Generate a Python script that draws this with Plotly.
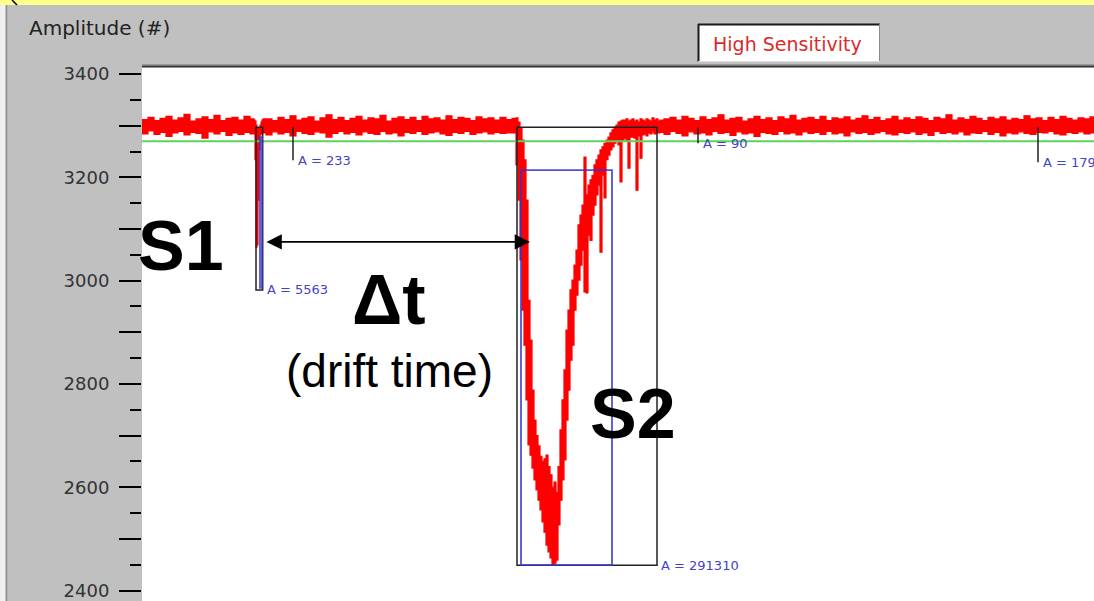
import plotly.graph_objects as go

# ---------------- data (time in samples, amplitude in ADC counts) ----------------
# trace envelope (max / min per time bin)
pre_t = list(range(0, 109, 6))
pre_hi = [3312, 3316, 3310, 3314, 3318, 3311, 3315, 3322, 3309, 3313,
          3317, 3312, 3320, 3310, 3314, 3316, 3311, 3318, 3313]
pre_lo = [3288, 3284, 3290, 3283, 3287, 3279, 3286, 3289, 3282, 3287,
          3285, 3276, 3288, 3284, 3289, 3281, 3286, 3283, 3287]

s1_t = list(range(112, 122))
s1_hi = [3311, 3309, 3301, 3296, 3292, 3296, 3301, 3307, 3311, 3313]
s1_lo = [3284, 3286, 3234, 3065, 3069, 3156, 3253, 3282, 3284, 3286]

drift_t = list(range(124, 371, 6))
drift_hi = [3313, 3310, 3316, 3312, 3319, 3311, 3314, 3317, 3309, 3315,
            3321, 3312, 3316, 3310, 3314, 3318, 3311, 3315, 3313, 3320,
            3309, 3314, 3317, 3312, 3316, 3310, 3318, 3313, 3315, 3311,
            3319, 3312, 3316, 3314, 3310, 3317, 3313, 3315, 3311, 3316,
            3312, 3314]
drift_lo = [3286, 3282, 3288, 3284, 3287, 3280, 3289, 3285, 3283, 3288,
            3286, 3278, 3285, 3289, 3284, 3287, 3282, 3288, 3285, 3283,
            3289, 3284, 3286, 3280, 3287, 3285, 3289, 3283, 3286, 3288,
            3284, 3281, 3287, 3285, 3289, 3283, 3286, 3288, 3284, 3287,
            3285, 3286]

s2_t = list(range(374, 519, 2))
s2_hi = [3315, 3307, 3295, 3272, 3234, 3156, 2962, 2885, 2788, 2730,
         2700, 2680, 2660, 2650, 2655, 2662, 2640, 2624, 2600, 2610,
         2590, 2640, 2711, 2769, 2827, 2904, 2943, 2982, 3001, 3030,
         3059, 3108, 3127, 3146, 3239, 3166, 3185, 3195, 3204, 3224,
         3234, 3243, 3253, 3259, 3266, 3272, 3278, 3286, 3292, 3297,
         3301, 3307, 3309, 3311, 3311, 3313, 3309, 3311, 3313, 3309,
         3311, 3307, 3313, 3311, 3309, 3313, 3311, 3309, 3315, 3311,
         3313, 3309, 3311]
s2_lo = [3286, 3224, 3156, 3040, 2943, 2875, 2769, 2682, 2662, 2637,
         2614, 2595, 2575, 2556, 2533, 2513, 2488, 2475, 2463, 2449,
         2453, 2459, 2527, 2575, 2614, 2653, 2730, 2788, 2846, 2875,
         2943, 2972, 3001, 3030, 3059, 2978, 2976, 3088, 3078, 3127,
         3146, 3166, 3185, 3055, 3204, 3160, 3234, 3243, 3253, 3259,
         3266, 3272, 3263, 3191, 3272, 3276, 3272, 3218, 3278, 3278,
         3276, 3175, 3280, 3237, 3282, 3284, 3280, 3286, 3284, 3288,
         3284, 3286, 3286]

post_t = list(range(522, 955, 6))
post_hi = [3313, 3316, 3311, 3318, 3314, 3310, 3317, 3312, 3315, 3321,
           3311, 3314, 3316, 3309, 3313, 3318, 3312, 3315, 3310, 3317,
           3313, 3320, 3311, 3314, 3316, 3312, 3318, 3310, 3315, 3313,
           3317, 3311, 3314, 3319, 3312, 3316, 3310, 3313, 3318, 3311,
           3315, 3312, 3317, 3314, 3310, 3316, 3313, 3321, 3311, 3315,
           3312, 3318, 3314, 3310, 3316, 3313, 3317, 3311, 3314, 3312,
           3319, 3313, 3315, 3310, 3316, 3312, 3318, 3314, 3311, 3315,
           3313, 3317, 3312]
post_lo = [3287, 3283, 3289, 3285, 3280, 3288, 3284, 3286, 3282, 3289,
           3285, 3287, 3281, 3288, 3284, 3286, 3279, 3287, 3285, 3283,
           3289, 3284, 3286, 3282, 3288, 3285, 3287, 3283, 3289, 3284,
           3286, 3280, 3288, 3285, 3287, 3283, 3286, 3289, 3284, 3282,
           3287, 3285, 3288, 3283, 3286, 3281, 3289, 3285, 3287, 3284,
           3288, 3282, 3286, 3285, 3289, 3283, 3287, 3280, 3286, 3284,
           3288, 3285, 3283, 3287, 3286, 3289, 3284, 3282, 3287, 3285,
           3288, 3284, 3286]

threshold = 3270

# integration windows (S1, S2)
win_t0 = [114, 375]
win_t1 = [120.7, 515]
win_top = [3297, 3297]
win_bottom = [2982, 2449]
win_area = [5563, 291310]
peak_t0 = [118, 379]
peak_t1 = [120, 470]
peak_top = [3278, 3214]
peak_bottom = [2986, 2449]

# small pulses above threshold
mark_t = [151, 556, 896]
mark_bottom = [3233, 3266, 3229]
mark_area = [233, 90, 179]

y_ticks = list(range(2400, 3401, 100))
y_labels = [str(v) if v % 200 == 0 else "" for v in y_ticks]
y_minor = list(range(2450, 3400, 100))

for a, b, c in [(pre_t, pre_hi, pre_lo), (s1_t, s1_hi, s1_lo), (drift_t, drift_hi, drift_lo),
                (s2_t, s2_hi, s2_lo), (post_t, post_hi, post_lo)]:
    assert len(a) == len(b) == len(c), (len(a), len(b), len(c))

# ---------------- geometry helpers ----------------
W, H = 1094, 601
L, T = 142, 67
PW, PH = W - L, H - T


def px(xp):
    return (xp - L) / PW


def py(yp):
    return (H - yp) / PH


band_t = pre_t + s1_t + drift_t + s2_t + post_t
band_hi = pre_hi + s1_hi + drift_hi + s2_hi + post_hi
band_lo = pre_lo + s1_lo + drift_lo + s2_lo + post_lo

fig = go.Figure()
fig.add_trace(go.Scatter(
    x=band_t + band_t[::-1], y=band_hi + band_lo[::-1],
    mode="lines", fill="toself", fillcolor="#ff0000", line_shape="hv",
    line=dict(color="#ff0000", width=1.2), hoverinfo="skip", showlegend=False))

shapes = []
annotations = []

# threshold line
shapes.append(dict(type="line", xref="paper", yref="y", x0=0, x1=1, y0=threshold, y1=threshold,
                   line=dict(color="#5cd25c", width=2)))

black = "#222222"
blue = "rgba(50,50,205,0.85)"
label_color = "#4343c6"
small_font = dict(family="DejaVu Sans", size=13, color=label_color)

for t0, t1, top, bot, area in zip(win_t0, win_t1, win_top, win_bottom, win_area):
    shapes.append(dict(type="rect", xref="x", yref="y", x0=t0, x1=t1, y0=bot, y1=top,
                       line=dict(color=black, width=1.5)))
    annotations.append(dict(x=t1, y=bot, xref="x", yref="y", text=f"A = {area}", showarrow=False,
                            xanchor="left", yanchor="middle", xshift=2, font=small_font))
for t0, t1, top, bot in zip(peak_t0, peak_t1, peak_top, peak_bottom):
    shapes.append(dict(type="rect", xref="x", yref="y", x0=t0, x1=t1, y0=bot, y1=top,
                       line=dict(color=blue, width=1.8)))
for t, bot, area in zip(mark_t, mark_bottom, mark_area):
    shapes.append(dict(type="line", xref="x", yref="y", x0=t, x1=t, y0=win_top[0], y1=bot,
                       line=dict(color=black, width=1.5)))
    annotations.append(dict(x=t, y=bot, xref="x", yref="y", text=f"A = {area}", showarrow=False,
                            xanchor="left", yanchor="middle", xshift=3, font=small_font))

# drift-time arrow between S1 and S2
annotations.append(dict(x=388, y=3075, ax=123, ay=3075, xref="x", yref="y", axref="x", ayref="y",
                        text="", showarrow=True, arrowhead=2, startarrowhead=2, arrowside="end+start",
                        arrowsize=1.7, arrowwidth=1.8, arrowcolor="black"))

big = dict(family="Liberation Sans, Arial", size=70, color="black", weight=700)
annotations += [
    dict(x=px(181), y=py(246), xref="paper", yref="paper", text="S1", showarrow=False,
         xanchor="center", yanchor="middle", font=big),
    dict(x=px(389), y=py(300), xref="paper", yref="paper", text="Δt", showarrow=False,
         xanchor="center", yanchor="middle", font=big),
    dict(x=px(389), y=py(371), xref="paper", yref="paper", text="(drift time)", showarrow=False,
         xanchor="center", yanchor="middle",
         font=dict(family="Liberation Sans, Arial", size=46, color="black")),
    dict(x=px(633), y=py(414), xref="paper", yref="paper", text="S2", showarrow=False,
         xanchor="center", yanchor="middle", font=big),
    dict(x=px(27), y=py(28), xref="paper", yref="paper", text="Amplitude (#)", showarrow=False,
         xanchor="left", yanchor="middle", font=dict(family="DejaVu Sans", size=20, color="#222222")),
    dict(x=px(711), y=py(44), xref="paper", yref="paper", text="High Sensitivity", showarrow=False,
         xanchor="left", yanchor="middle", font=dict(family="DejaVu Sans", size=19, color="#dd2a2a")),
]

# window chrome
shapes += [
    dict(type="rect", xref="paper", yref="paper", x0=px(0), x1=px(W), y0=py(5), y1=py(0) + 0.01,
         fillcolor="#ffff8c", line=dict(width=0), layer="below"),
    dict(type="line", xref="paper", yref="paper", x0=px(12), x1=px(17), y0=py(0), y1=py(5),
         line=dict(color="black", width=1.5)),
    dict(type="rect", xref="paper", yref="paper", x0=px(0), x1=px(5.5), y0=py(H), y1=py(5),
         fillcolor="#efefef", line=dict(width=0), layer="below"),
    dict(type="line", xref="paper", yref="paper", x0=px(6.5), x1=px(6.5), y0=py(H), y1=py(5),
         line=dict(color="#8c8c8c", width=1.5)),
    dict(type="line", xref="paper", yref="paper", x0=0, x1=1, y0=py(64.5), y1=py(64.5),
         line=dict(color="#9a9a9a", width=1)),
    dict(type="line", xref="paper", yref="paper", x0=0, x1=1, y0=py(66.5), y1=py(66.5),
         line=dict(color="#303030", width=2)),
    # legend box
    dict(type="rect", xref="paper", yref="paper", x0=px(698), x1=px(880), y0=py(62), y1=py(24),
         fillcolor="white", line=dict(width=0), layer="below"),
    dict(type="line", xref="paper", yref="paper", x0=px(698), x1=px(880), y0=py(24.5), y1=py(24.5),
         line=dict(color="#1a1a1a", width=2)),
    dict(type="line", xref="paper", yref="paper", x0=px(698.5), x1=px(698.5), y0=py(62), y1=py(24),
         line=dict(color="#1a1a1a", width=2)),
    dict(type="line", xref="paper", yref="paper", x0=px(879.5), x1=px(879.5), y0=py(62), y1=py(24),
         line=dict(color="#8a8a8a", width=1)),
    dict(type="line", xref="paper", yref="paper", x0=px(698), x1=px(880), y0=py(61.5), y1=py(61.5),
         line=dict(color="#dddddd", width=1)),
]

fig.update_layout(
    width=W, height=H,
    margin=dict(l=L, r=0, t=T, b=0, pad=0),
    paper_bgcolor="#c0c0c0", plot_bgcolor="white",
    showlegend=False,
    shapes=shapes, annotations=annotations,
    xaxis=dict(range=[0, PW], visible=False, showgrid=False, zeroline=False),
    yaxis=dict(range=[2379.7, 3413.6], showgrid=False, zeroline=False, showline=False,
               tickmode="array", tickvals=y_ticks, ticktext=y_labels,
               ticks="outside", ticklen=22, tickwidth=2, tickcolor="black",
               ticklabelstandoff=6,
               tickfont=dict(family="DejaVu Sans", size=18, color="#333333"),
               minor=dict(tickmode="array", tickvals=y_minor, ticks="outside", ticklen=11,
                          tickwidth=2, tickcolor="black", showgrid=False)),
)

fig.write_html("out.html")
